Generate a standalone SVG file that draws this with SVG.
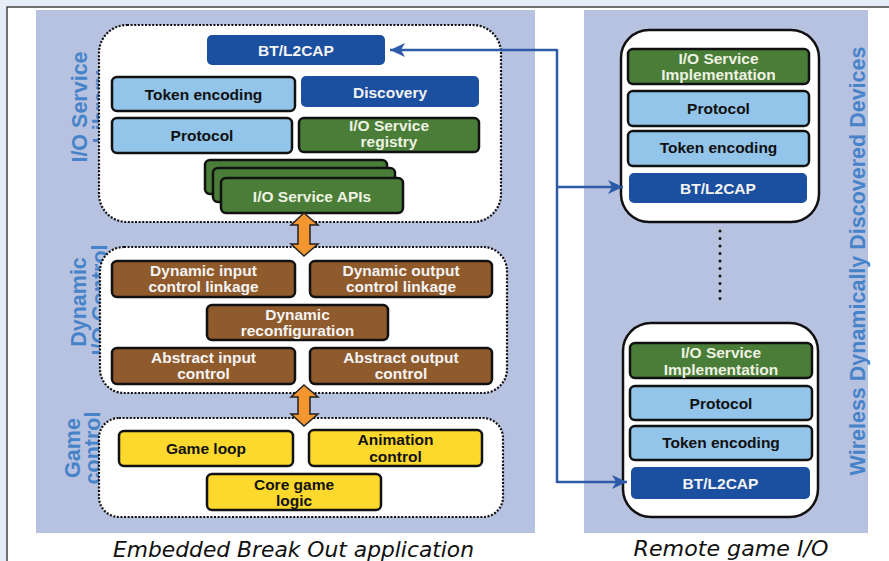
<svg xmlns="http://www.w3.org/2000/svg" width="889" height="561" viewBox="0 0 889 561">
<defs>
<style>
.t{font-family:"Liberation Sans",Arial,sans-serif;font-weight:bold;font-size:15.5px;text-anchor:middle}
.dk{fill:#111}
.lt{fill:#f4f4f4}
.gt{fill:#eef2e2}
.lab{font-family:"Liberation Sans",Arial,sans-serif;font-weight:bold;font-size:21.5px;fill:#4683c8;text-anchor:middle}
.cap{font-family:"DejaVu Sans",Verdana,sans-serif;font-style:italic;font-size:21px;fill:#111;text-anchor:middle}
.db{fill:#1b4f9f}
.lb{fill:#93c4ea;stroke:#111;stroke-width:2.5}
.gr{fill:#4a7d38;stroke:#111;stroke-width:2.5}
.br{fill:#8f5a2c;stroke:#111;stroke-width:2.5}
.ye{fill:#fcd92c;stroke:#111;stroke-width:2.5}
.cont{fill:#fff;stroke:#111;stroke-width:2.2;stroke-dasharray:2 1.6}
.dev{fill:#fff;stroke:#111;stroke-width:2.5}
.con{fill:none;stroke:#2d5ba8;stroke-width:2.5}
.orange{fill:#f4962f;stroke:#222;stroke-width:1.5}
</style>
<marker id="ah" viewBox="0 0 16 14" refX="15" refY="7" markerWidth="16" markerHeight="14" markerUnits="userSpaceOnUse" orient="auto">
<path d="M15,7 L0,0 L4,7 L0,14 Z" fill="#2d5ba8"/>
</marker>
</defs>
<rect x="0" y="0" width="889" height="561" fill="#e6edf7"/>
<rect x="7" y="7" width="900" height="600" fill="#fff" stroke="#444" stroke-width="1.5"/>
<rect x="36" y="10" width="499" height="523" fill="#b7c2e0"/>
<rect x="584" y="10" width="284" height="523" fill="#b7c2e0"/>

<g id="labels">
<text class="lab" transform="translate(87,107) rotate(-90)">I/O Service</text>
<text class="lab" transform="translate(108,107) rotate(-90)">Library</text>
<text class="lab" transform="translate(86,302) rotate(-90)">Dynamic</text>
<text class="lab" transform="translate(107,300) rotate(-90)">I/O Control</text>
<text class="lab" transform="translate(80,448) rotate(-90)">Game</text>
<text class="lab" transform="translate(100,448) rotate(-90)">control</text>
<text class="lab" transform="translate(865,261) rotate(-90)">Wireless Dynamically Discovered Devices</text>
</g>

<g id="io-service-library">
<rect class="cont" x="99" y="25" width="402" height="197" rx="28"/>
</g>
<g id="dynamic-io-control">
<rect class="cont" x="100" y="247" width="407" height="146" rx="24"/>
</g>
<g id="game-control">
<rect class="cont" x="99" y="418" width="404" height="99" rx="20"/>
</g>

<g id="bt-l2cap-local"><rect class="db" x="207" y="35" width="178" height="30" rx="5"/><text class="t lt" x="296" y="56">BT/L2CAP</text></g>
<g id="token-encoding-local"><rect class="lb" x="112" y="77" width="183" height="34" rx="5"/><text class="t dk" x="203.5" y="100">Token encoding</text></g>
<g id="discovery"><rect class="db" x="301" y="76" width="178" height="31" rx="5"/><text class="t lt" x="390" y="97.5">Discovery</text></g>
<g id="protocol-local"><rect class="lb" x="112" y="118" width="180" height="35" rx="5"/><text class="t dk" x="202" y="141">Protocol</text></g>
<g id="io-service-registry"><rect class="gr" x="299" y="118" width="180" height="34" rx="5"/><text class="t gt" x="389" y="130.5">I/O Service</text><text class="t gt" x="389" y="147">registry</text></g>
<g id="io-service-apis">
<rect class="gr" x="205" y="160" width="182" height="34" rx="5"/>
<rect class="gr" x="213" y="168" width="182" height="34" rx="5"/>
<rect class="gr" x="221" y="178" width="182" height="35" rx="5"/>
<text class="t gt" x="312" y="202">I/O Service APIs</text>
</g>

<g id="dynamic-input"><rect class="br" x="112" y="261" width="183" height="36" rx="5"/><text class="t lt" x="203.5" y="275.5">Dynamic input</text><text class="t lt" x="203.5" y="292">control linkage</text></g>
<g id="dynamic-output"><rect class="br" x="310" y="261" width="182" height="36" rx="5"/><text class="t lt" x="401" y="275.5">Dynamic output</text><text class="t lt" x="401" y="292">control linkage</text></g>
<g id="dynamic-reconfiguration"><rect class="br" x="207" y="305" width="181" height="35" rx="5"/><text class="t lt" x="297.5" y="319.5">Dynamic</text><text class="t lt" x="297.5" y="336">reconfiguration</text></g>
<g id="abstract-input"><rect class="br" x="112" y="348" width="183" height="36" rx="5"/><text class="t lt" x="203.5" y="362.5">Abstract input</text><text class="t lt" x="203.5" y="379">control</text></g>
<g id="abstract-output"><rect class="br" x="310" y="348" width="182" height="36" rx="5"/><text class="t lt" x="401" y="362.5">Abstract output</text><text class="t lt" x="401" y="379">control</text></g>

<g id="game-loop"><rect class="ye" x="119" y="431" width="174" height="35" rx="5"/><text class="t dk" x="206" y="454">Game loop</text></g>
<g id="animation-control"><rect class="ye" x="309" y="430" width="173" height="36" rx="5"/><text class="t dk" x="395.5" y="444.5">Animation</text><text class="t dk" x="395.5" y="462">control</text></g>
<g id="core-game-logic"><rect class="ye" x="207" y="474" width="174" height="36" rx="5"/><text class="t dk" x="294" y="489.5">Core game</text><text class="t dk" x="294" y="506">logic</text></g>

<g id="arrow-io-dynamic"><path class="orange" d="M304,213 L318,225 L310,225 L310,244 L318,244 L304,256 L291,244 L298,244 L298,225 L291,225 Z"/></g>
<g id="arrow-dynamic-game"><path class="orange" d="M304,385 L318,397 L310,397 L310,414 L318,414 L304,426 L291,414 L298,414 L298,397 L291,397 Z"/></g>

<g id="device-1">
<rect class="dev" x="621" y="30" width="198" height="192" rx="28"/>
<rect class="gr" x="628" y="49" width="181" height="35" rx="5"/><text class="t gt" x="718.5" y="63.5">I/O Service</text><text class="t gt" x="718.5" y="80">Implementation</text>
<rect class="lb" x="628" y="91" width="181" height="35" rx="5"/><text class="t dk" x="718.5" y="114">Protocol</text>
<rect class="lb" x="628" y="131" width="181" height="35" rx="5"/><text class="t dk" x="718.5" y="153">Token encoding</text>
<rect class="db" x="629" y="173" width="178" height="30" rx="5"/><text class="t lt" x="718" y="194">BT/L2CAP</text>
</g>
<g id="device-dots"><line x1="720" y1="231" x2="720" y2="306" stroke="#111" stroke-width="3" stroke-linecap="round" stroke-dasharray="0 7.5"/></g>
<g id="device-2">
<rect class="dev" x="623" y="323" width="195" height="194" rx="28"/>
<rect class="gr" x="630" y="343" width="182" height="35" rx="5"/><text class="t gt" x="721" y="358">I/O Service</text><text class="t gt" x="721" y="374.5">Implementation</text>
<rect class="lb" x="630" y="386" width="182" height="34" rx="5"/><text class="t dk" x="721" y="409">Protocol</text>
<rect class="lb" x="630" y="426" width="182" height="34" rx="5"/><text class="t dk" x="721" y="448">Token encoding</text>
<rect class="db" x="631" y="467" width="179" height="32" rx="5"/><text class="t lt" x="720.5" y="489">BT/L2CAP</text>
</g>

<g id="connectors">
<path class="con" d="M557,50 L390,50" marker-end="url(#ah)"/>
<path class="con" d="M557,49 L557,483"/>
<path class="con" d="M557,187 L623,187" marker-end="url(#ah)"/>
<path class="con" d="M557,482 L627,482" marker-end="url(#ah)"/>
</g>

<g id="captions">
<text class="cap" x="293.5" y="557" textLength="361" lengthAdjust="spacingAndGlyphs">Embedded Break Out application</text>
<text class="cap" x="731" y="556" textLength="195" lengthAdjust="spacingAndGlyphs">Remote game I/O</text>
</g>
</svg>
